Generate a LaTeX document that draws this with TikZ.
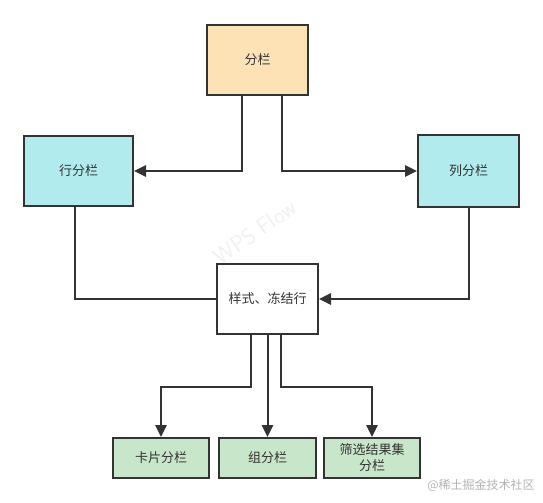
\documentclass[tikz,border=0pt]{standalone}
\usepackage{fontspec}
\newfontfamily\cjk{Noto Sans CJK SC}
\usepackage{tikz}
\usetikzlibrary{positioning, calc, arrows.meta}

\definecolor{linegray}{HTML}{333333}
\definecolor{peach}{HTML}{FDE2B6}
\definecolor{paleblue}{HTML}{B2EBEE}
\definecolor{palegreen}{HTML}{C8E6C9}

\tikzset{
    box/.style={draw=linegray, line width=1.5pt, text=linegray, align=center,
        font=\cjk\fontsize{9.75pt}{12pt}\selectfont, inner sep=0pt},
    link/.style={draw=linegray, line width=1.5pt},
    arrow/.style={link, -{Triangle[length=9pt, width=8.5pt]}}
}

\begin{document}
\begin{tikzpicture}[x=0.75pt, y=-0.75pt]
    \useasboundingbox (0,0) rectangle (543,503);

    % Boxes
    \node[box, fill=peach, minimum width=75.75pt, minimum height=52.5pt] (split) at (257.5,60) {分栏};
    \node[box, fill=paleblue, minimum width=81.75pt, minimum height=52.5pt] (rowsplit) at (78.5,171) {行分栏};
    \node[box, fill=paleblue, minimum width=75.75pt, minimum height=54pt] (colsplit) at (468.5,171) {列分栏};
    \node[box, fill=white, minimum width=75.75pt, minimum height=52.5pt] (freeze) at (267.5,299) {样式、冻结行};
    \node[box, fill=palegreen, minimum width=72pt, minimum height=30pt] (card) at (161,458) {卡片分栏};
    \node[box, fill=palegreen, minimum width=72.75pt, minimum height=30pt] (group) at (267.5,458) {组分栏};
    \node[box, fill=palegreen, minimum width=72pt, minimum height=30pt] (filter) at (372,458) {筛选结果集\\分栏};

    % Top connectors
    \draw[arrow] ([xshift=-11.6pt]split.south) |- (rowsplit.east);
    \draw[arrow] ([xshift=18.4pt]split.south) |- (colsplit.west);

    % Side connectors
    \draw[link] ([xshift=-2.6pt]rowsplit.south) |- (freeze.west);
    \draw[arrow] (colsplit.south) |- (freeze.east);

    % Bottom connectors
    \coordinate (bendL) at (251,387);
    \coordinate (bendR) at (281,387);
    \draw[arrow] (freeze.south -| bendL) -- (bendL) -| (card.north);
    \draw[arrow] (freeze.south) -- (group.north);
    \draw[arrow] (freeze.south -| bendR) -- (bendR) -| (filter.north);

    % Watermarks
    \node[text=black!6, font=\sffamily\fontsize{17pt}{17pt}\selectfont, rotate=35] (wps) at (255,232) {WPS Flow};
    \node[text=black!30, font=\cjk\fontsize{9pt}{10pt}\selectfont] (credit) at (481,485) {@稀土掘金技术社区};
\end{tikzpicture}
\end{document}
